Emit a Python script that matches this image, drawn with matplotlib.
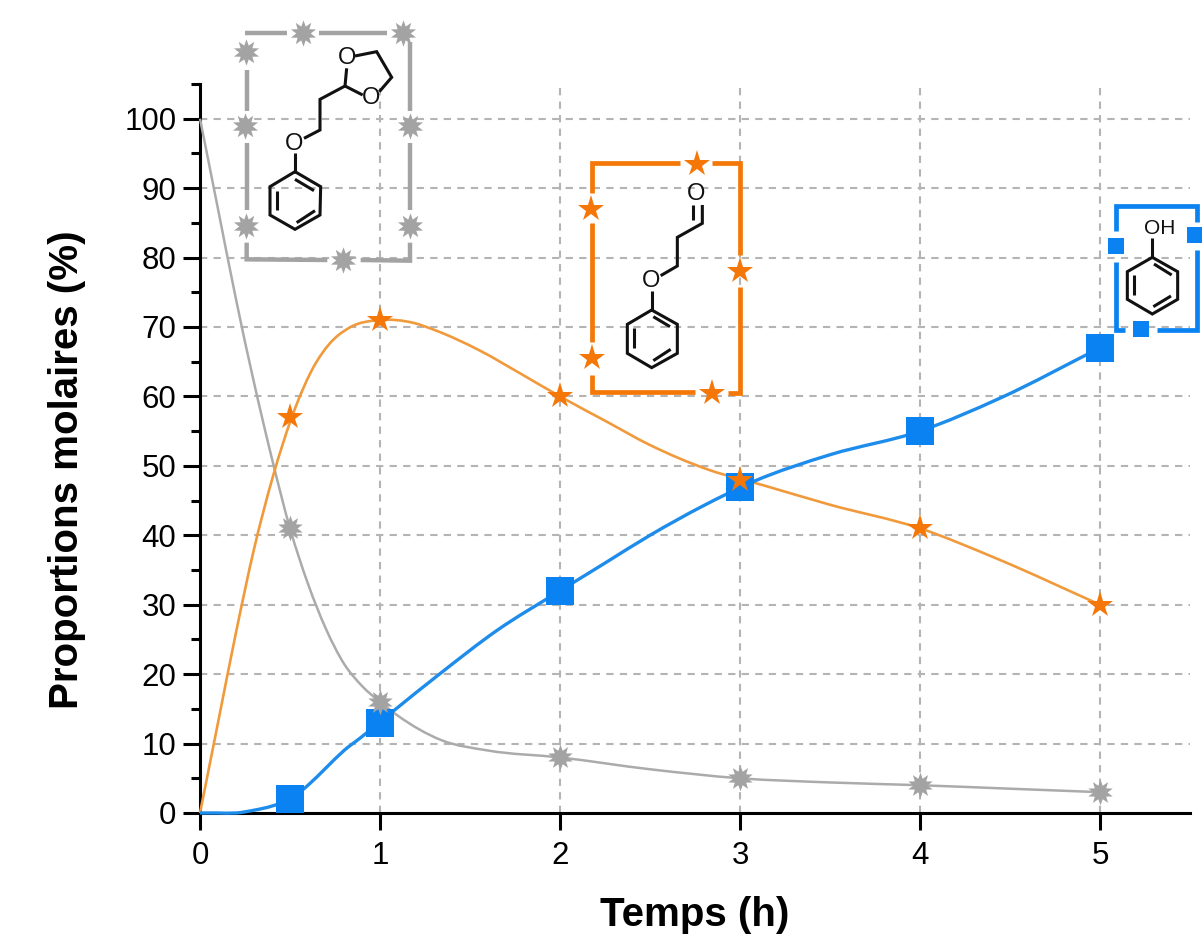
# -*- coding: utf-8 -*-
import numpy as np
import matplotlib
matplotlib.use('Agg')
import matplotlib.pyplot as plt
from matplotlib.path import Path
from matplotlib.patches import PathPatch
from matplotlib.ticker import MultipleLocator

plt.rcParams['font.family'] = ['Liberation Sans', 'DejaVu Sans']

# measured points
temps = [0.5, 1, 2, 3, 4, 5]
gris_pts = [41, 16, 8, 5, 4, 3]
orange_pts = [57, 71, 60, 48, 41, 30]
bleu_pts = [2, 13, 32, 47, 55, 67]

# fitted curves
gris_x = [0, 0.1, 0.2, 0.3, 0.4, 0.5, 0.6, 0.7, 0.8, 0.9, 1, 1.1, 1.34, 1.6, 2, 2.5, 3, 3.5, 4, 4.5, 5]
gris_y = [100, 87, 74, 62, 51, 41, 33, 26.5, 21.5, 18.3, 16, 14, 10.5, 9, 8, 6.3, 5, 4.4, 4, 3.5, 3]
orange_x = [0, 0.1, 0.2, 0.3, 0.4, 0.53, 0.63, 0.72, 0.83, 1, 1.185, 1.31, 1.555, 1.78, 2, 2.25, 2.5, 2.83, 3.13, 3.5, 4, 4.43, 5]
orange_y = [0, 13, 26, 38, 48, 58.4, 64.2, 67.6, 69.9, 71, 70.6, 69.5, 66.6, 63.3, 60, 56.5, 53, 49.4, 47.2, 44.4, 41, 36.6, 30]
bleu_x = [0, 0.1, 0.2, 0.3, 0.4, 0.5, 0.6, 0.7, 0.8, 0.9, 1.07, 1.33, 1.65, 2, 2.25, 2.5, 2.8, 3.08, 3.5, 4, 4.44, 5]
bleu_y = [0, 0, 0, 0.4, 1, 2, 4, 6.5, 9, 11, 14.6, 20, 26.3, 32, 36, 40, 44.3, 47.8, 51.6, 55, 59.7, 67]

GRIS = '#A3A3A3'
ORANGE = '#F47708'
BLEU = '#0A82F2'
burst = Path.unit_regular_star(10, innerCircle=0.55)


def courbe(ax, xs, ys, color, lw):
    # smooth bezier path through the read points
    xs = np.array(xs, dtype=float)
    ys = np.array(ys, dtype=float)
    pente = np.gradient(ys, xs)
    verts = [(xs[0], ys[0])]
    codes = [Path.MOVETO]
    for i in range(len(xs) - 1):
        dx = (xs[i + 1] - xs[i]) / 3
        verts += [(xs[i] + dx, ys[i] + pente[i] * dx),
                  (xs[i + 1] - dx, ys[i + 1] - pente[i + 1] * dx),
                  (xs[i + 1], ys[i + 1])]
        codes += [Path.CURVE4] * 3
    ax.add_patch(PathPatch(Path(verts, codes), fc='none', ec=color, lw=lw, clip_on=False, zorder=3))


fig = plt.figure(figsize=(12.02, 9.40), dpi=100)
ax = fig.add_axes([200 / 1202, 1 - 813 / 940, 990 / 1202, 729 / 940])
ax.set_xlim(0, 5.5)
ax.set_ylim(0, 105)

courbe(ax, gris_x, gris_y, '#ABABAB', 1.8)
courbe(ax, orange_x, orange_y, '#F09A3C', 1.9)
courbe(ax, bleu_x, bleu_y, '#1E8CEB', 2.4)

ax.plot(temps, bleu_pts, ls='none', marker='s', ms=20.5, color=BLEU, mew=0, clip_on=False, zorder=4)
ax.plot(temps, gris_pts, ls='none', marker=burst, ms=18.5, color=GRIS, mew=0, clip_on=False, zorder=5)
ax.plot(temps, orange_pts, ls='none', marker='*', ms=20, color=ORANGE, mew=0, clip_on=False, zorder=6)

ax.spines['top'].set_visible(False)
ax.spines['right'].set_visible(False)
ax.spines['left'].set_linewidth(2.2)
ax.spines['bottom'].set_linewidth(2.2)
ax.xaxis.set_major_locator(MultipleLocator(1))
ax.yaxis.set_major_locator(MultipleLocator(10))
ax.yaxis.set_minor_locator(MultipleLocator(5))
ax.tick_params(axis='both', which='major', length=12, width=2.2, labelsize=22.5, pad=5)
ax.tick_params(axis='x', which='major', pad=8)
ax.tick_params(axis='y', which='minor', length=6.5, width=2.2)
ax.grid(True, which='major', color='#B4B4B4', ls=(0, (3.5, 3)), lw=1.5)
ax.set_axisbelow(True)
ax.set_xlabel('Temps (h)', fontsize=29, fontweight='bold', labelpad=18.5)
ax.set_ylabel('Proportions molaires (%)', fontsize=29, fontweight='bold')
ax.yaxis.set_label_coords(-114 / 990, 1 - (470 - 84) / 729)

# overlay in pixel coordinates for the boxed structures
ov = fig.add_axes([0, 0, 1, 1], facecolor='none')
ov.set_xlim(0, 1202)
ov.set_ylim(940, 0)
ov.axis('off')


def seg(ox, oy, pts, color, lw):
    # pts given in 3x crop coordinates
    xs = [ox + p[0] / 3 for p in pts]
    ys = [oy + p[1] / 3 for p in pts]
    ov.plot(xs, ys, color=color, lw=lw, solid_capstyle='butt', solid_joinstyle='miter', zorder=7)


def mark(ox, oy, pts, marker, ms, color):
    xs = [ox + p[0] / 3 for p in pts]
    ys = [oy + p[1] / 3 for p in pts]
    ov.plot(xs, ys, ls='none', marker=marker, ms=ms, color=color, mew=0, zorder=8, clip_on=True)


def label(ox, oy, x, y, s, size=17):
    ov.text(ox + x / 3, oy + y / 3, s, fontsize=size, ha='center', va='center', color='#111111', zorder=9)


# grey box
ox, oy = 180, 0
for pts in [[(195, 100), (322, 100)], [(417, 100), (622, 100)], [(690, 125), (690, 332)],
            [(690, 430), (690, 630)], [(690, 728), (690, 782), (542, 780)], [(442, 780), (200, 778), (200, 728)],
            [(200, 630), (200, 430)], [(200, 332), (200, 210)]]:
    seg(ox, oy, pts, GRIS, 3.2)
mark(ox, oy, [(370, 100), (668, 100), (198, 155), (196, 378), (198, 677), (490, 780), (690, 378), (690, 677)],
     burst, 19, GRIS)
for pts in [[(345, 515), (422, 560), (420, 645), (345, 688), (270, 645), (270, 560), (345, 515)],
            [(345, 538), (402, 572)], [(290, 572), (290, 630)], [(350, 668), (405, 632)],
            [(345, 515), (345, 460)], [(372, 415), (420, 390), (420, 298), (495, 258), (500, 205)],
            [(495, 258), (548, 285)], [(598, 275), (635, 232), (590, 155), (525, 168)]]:
    seg(ox, oy, pts, '#111111', 2.2)
label(ox, oy, 343, 433, 'O')
label(ox, oy, 500, 175, 'O')
label(ox, oy, 572, 295, 'O')

# orange box
ox, oy = 570, 140
for pts in [[(65, 160), (65, 68), (330, 68)], [(425, 68), (510, 68), (510, 345)], [(510, 440), (510, 760), (475, 760)],
            [(375, 757), (65, 757), (65, 705)], [(65, 605), (65, 250)]]:
    seg(ox, oy, pts, ORANGE, 3.4)
mark(ox, oy, [(380, 72), (63, 208), (65, 655), (510, 393), (427, 760)], '*', 20, ORANGE)
for pts in [[(245, 510), (322, 553), (322, 640), (245, 683), (172, 640), (172, 553), (245, 510)],
            [(250, 530), (300, 560)], [(192, 565), (192, 625)], [(250, 662), (302, 628)],
            [(245, 510), (245, 452)], [(272, 407), (322, 378), (322, 292), (397, 250), (397, 195)],
            [(370, 240), (370, 195)]]:
    seg(ox, oy, pts, '#111111', 2.2)
label(ox, oy, 243, 423, 'O')
label(ox, oy, 378, 162, 'O')

# blue box
ox, oy = 1090, 190
for pts in [[(78, 122), (78, 47), (320, 47), (320, 95)], [(320, 180), (320, 420), (200, 420)],
            [(105, 420), (78, 420), (78, 215)]]:
    seg(ox, oy, pts, BLEU, 3.4)
mark(ox, oy, [(78, 168), (315, 135), (152, 418)], 's', 11.5, BLEU)
for pts in [[(187, 202), (263, 245), (263, 328), (187, 372), (112, 328), (112, 245), (187, 202)],
            [(192, 222), (245, 255)], [(132, 255), (132, 315)], [(190, 350), (243, 318)],
            [(187, 202), (187, 145)]]:
    seg(ox, oy, pts, '#111111', 2.2)
label(ox, oy, 208, 115, 'OH', 15)

fig.savefig('out.png', dpi=100)
